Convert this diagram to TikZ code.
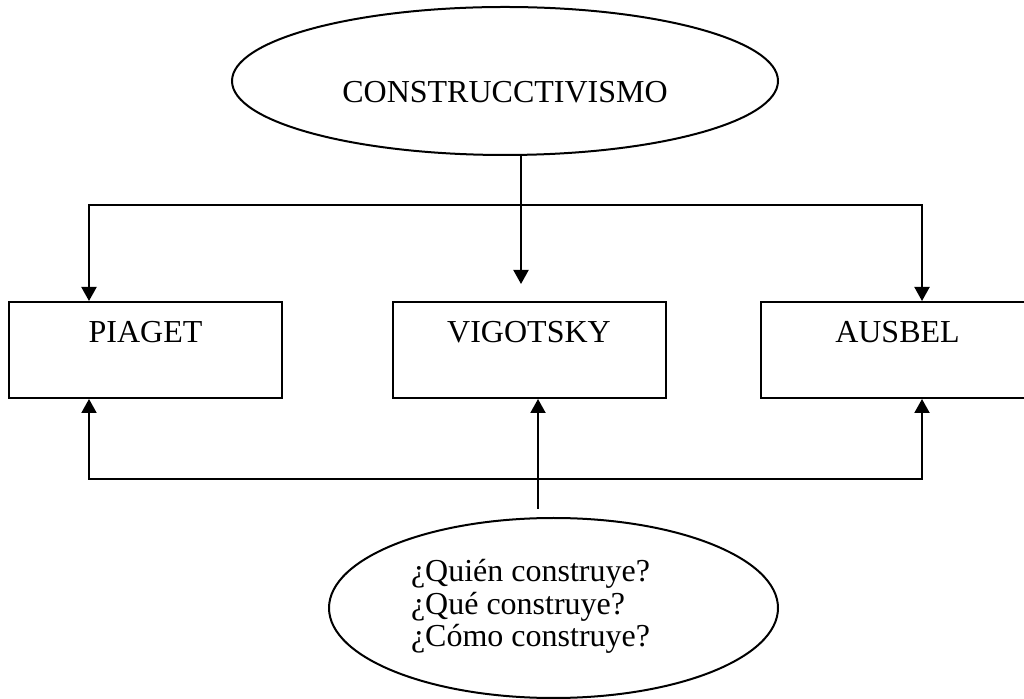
\documentclass[tikz,border=0pt]{standalone}
\usepackage{fontspec}
\setmainfont{Liberation Serif}
\usetikzlibrary{arrows.meta,shapes.geometric,calc}
\begin{document}
\begin{tikzpicture}[x=1pt,y=1pt,
  line width=2pt,
  every node/.style={font=\fontsize{32}{32.5}\selectfont},
  boxnode/.style={draw, rectangle, minimum width=273pt, minimum height=96pt, inner sep=0pt, text height=22pt, text depth=36pt},
  ovalnode/.style={draw, ellipse, inner sep=0pt},
  arr/.style={-{Triangle[length=14pt,width=15pt]}},
  darr/.style={{Triangle[length=14pt,width=15pt]}-{Triangle[length=14pt,width=15pt]}}
]
\useasboundingbox (0,0) rectangle (1024,698);
\node[ovalnode, minimum width=546pt, minimum height=148pt, text height=44pt, text depth=0pt] (top) at (505,617) {CONSTRUCCTIVISMO};
\node[boxnode] (pia) at (145.5,348) {PIAGET};
\node[boxnode] (vig) at (529,348) {VIGOTSKY};
\node[boxnode] (aus) at (897.5,348) {AUSBEL};
\node[ovalnode, minimum width=449pt, minimum height=180pt] (q) at (553.5,90) {};
\node[anchor=west, align=left, inner sep=0pt] (qt) at (410,91.5) {¿Quién construye?\\¿Qué construye?\\¿Cómo construye?};
\draw[arr] ($(top.south)+(16,0)$) -- ($(vig.north)+(-8,17)$);
\draw[darr] ($(pia.north)+(-56.5,0)$) -- ++(0,96) -| ($(aus.north)+(24.5,0)$);
\draw[darr] ($(pia.south)+(-56.5,0)$) -- ++(0,-80) -| ($(aus.south)+(24.5,0)$);
\draw[arr] ($(q.north)+(-15.5,8)$) -- ($(vig.south)+(9,0)$);
\end{tikzpicture}
\end{document}
